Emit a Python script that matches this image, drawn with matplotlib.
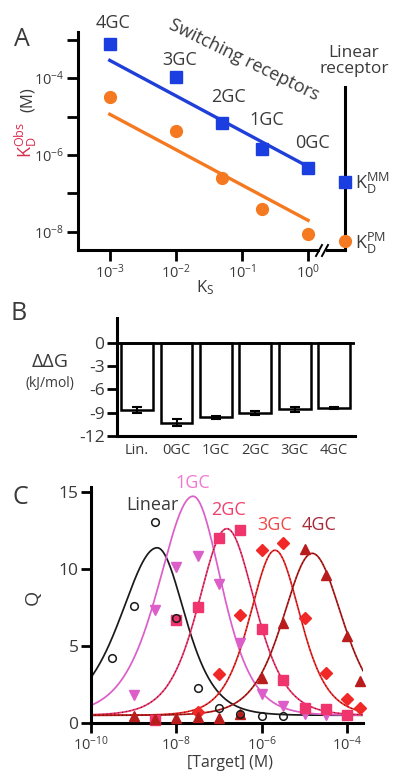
import numpy as np
import matplotlib
matplotlib.use('Agg')
import matplotlib.pyplot as plt
from matplotlib.lines import Line2D
from matplotlib.ticker import FixedLocator, NullLocator, FixedFormatter

plt.rcParams['font.family'] = ['Open Sans', 'DejaVu Sans']
plt.rcParams['mathtext.fontset'] = 'custom'
plt.rcParams['mathtext.rm'] = 'Open Sans'
plt.rcParams['mathtext.it'] = 'Open Sans'
plt.rcParams['mathtext.bf'] = 'Open Sans'
plt.rcParams['axes.unicode_minus'] = False

# ---------------- Panel A data ----------------
ks = [1e-3, 1e-2, 5e-2, 2e-1, 1e0]
constructs_A = ['4GC', '3GC', '2GC', '1GC', '0GC']
kd_mm = [7.9e-4, 1.07e-4, 6.7e-6, 1.45e-6, 4.6e-7]
kd_pm = [3.2e-5, 4.2e-6, 2.5e-7, 4.0e-8, 9.0e-9]
fit_ks = [1e-3, 1e0]
fit_mm = [2.9e-4, 5.0e-7]
fit_pm = [1.15e-5, 2.0e-8]
linear_mm = 1.95e-7
linear_pm = 5.9e-9
a_xticks = [1e-3, 1e-2, 1e-1, 1e0]
a_yticks = [1e-8, 1e-7, 1e-6, 1e-5, 1e-4, 1e-3]
a_ylabels = ['$\\mathdefault{10^{-8}}$', '', '$\\mathdefault{10^{-6}}$', '',
             '$\\mathdefault{10^{-4}}$', '']

# ---------------- Panel B data ----------------
b_labels = ['Lin.', '0GC', '1GC', '2GC', '3GC', '4GC']
ddg = [-8.6, -10.3, -9.6, -9.05, -8.55, -8.4]
ddg_err = [0.4, 0.45, 0.2, 0.3, 0.3, 0.1]
b_yticks = [0, -3, -6, -9, -12]

# ---------------- Panel C data ----------------
logc_lin = [-9.5, -9, -8.5, -8, -7.5, -7, -6.5, -6, -5.5]
q_lin = [4.2, 7.6, 13.0, 6.8, 2.25, 1.0, 0.6, 0.45, 0.45]
logc_1gc = [-9, -8.5, -8, -7.5, -7, -6.5, -6, -5.5, -5, -4.5]
q_1gc = [1.8, 7.3, 10.1, 10.8, 9.0, 5.2, 1.9, 1.1, 0.6, 0.5]
logc_2gc = [-8.5, -8, -7.5, -7, -6.5, -6, -5.5, -5, -4.5, -4]
q_2gc = [0.2, 6.7, 7.5, 12.0, 12.5, 6.1, 2.8, 1.0, 0.9, 0.5]
logc_3gc = [-7.5, -7, -6.5, -6, -5.5, -5, -4.5, -4, -3.7]
q_3gc = [0.73, 3.2, 7.0, 11.2, 11.7, 6.8, 3.27, 1.54, 0.95]
logc_4gc = [-9, -8.5, -8, -7.5, -7, -6.5, -6, -5.5, -5, -4.5, -4, -3.7]
q_4gc = [0.45, 0.25, 0.3, 0.4, 0.3, 0.6, 2.9, 6.5, 11.3, 9.6, 5.65, 2.7]

# fitted peak-curve parameters: centre (log M), peak Q, left/right slope
fit_center = [-8.45, -7.61, -6.82, -5.69, -4.82]
fit_peak = [11.36, 14.7, 12.6, 11.2, 11.0]
fit_hl = [0.77, 0.81, 0.98, 1.1, 0.95]
fit_hr = [1.0, 0.97, 0.98, 1.1, 0.92]
fit_base = 0.5
c_xticks = [1e-10, 1e-8, 1e-6, 1e-4]
c_yticks = [0, 5, 10, 15]

W, H = 395, 774
fig = plt.figure(figsize=(W / 100, H / 100), dpi=100)


def fx(x):
    return x / W


def fy(y):
    return 1 - y / H


TXT = '#3a3a3a'
BLUE = '#1a3ee0'
ORANGE = '#f47920'
RED_LBL = '#d8304f'

# ================= Panel A =================
axA = fig.add_axes([fx(78), fy(250), (318 - 78) / W, (250 - 32) / H])
axA.set_xscale('log')
axA.set_yscale('log')
axA.set_xlim(10 ** -3.48, 10 ** 0.15)
ylimA = (10 ** -8.47, 10 ** -2.8)
axA.set_ylim(*ylimA)
axA.plot(fit_ks, fit_mm, color='#1f3fd8', lw=2.4)
axA.plot(fit_ks, fit_pm, color=ORANGE, lw=2.4)
axA.plot(ks, kd_mm, 's', color=BLUE, ms=8.5, clip_on=False, zorder=3)
axA.plot(ks, kd_pm, 'o', color=ORANGE, ms=8.5, clip_on=False, zorder=3)
for s in ['top', 'right']:
    axA.spines[s].set_visible(False)
for s in ['left', 'bottom']:
    axA.spines[s].set_linewidth(2.2)
axA.xaxis.set_major_locator(FixedLocator(a_xticks))
axA.yaxis.set_major_locator(FixedLocator(a_yticks))
axA.yaxis.set_major_formatter(FixedFormatter(a_ylabels))
axA.xaxis.set_minor_locator(NullLocator())
axA.yaxis.set_minor_locator(NullLocator())
axA.tick_params(direction='out', length=8, width=2, labelsize=10.5,
                labelcolor=TXT, pad=2)

# linear receptor axis
axL = fig.add_axes([fx(327), fy(250), (372 - 327) / W, (250 - 32) / H])
axL.patch.set_visible(False)
axL.set_yscale('log')
axL.set_ylim(*ylimA)
axL.set_xlim(-1, 1.5)
for s in ['top', 'right']:
    axL.spines[s].set_visible(False)
axL.spines['left'].set_position(('data', 0))
axL.spines['left'].set_bounds(ylimA[0], 10 ** -4.23)
axL.spines['bottom'].set_bounds(-1, 0)
for s in ['left', 'bottom']:
    axL.spines[s].set_linewidth(2.2)
axL.set_xticks([])
axL.yaxis.set_major_locator(NullLocator())
axL.yaxis.set_minor_locator(NullLocator())
axL.plot([0], [linear_mm], 's', color=BLUE, ms=8.5, clip_on=False, zorder=3)
axL.plot([0], [linear_pm], 'o', color=ORANGE, ms=8.5, clip_on=False, zorder=3)

# axis break marks
for x0 in (316, 322):
    fig.add_artist(Line2D([fx(x0), fx(x0 + 6)], [fy(256), fy(245)],
                          color='black', lw=1.4))

# annotations A
ann_pos = [(113, 23), (180, 60), (228, 97), (267, 120), (312, 143)]
for lab, (px, py) in zip(constructs_A, ann_pos):
    fig.text(fx(px), fy(py), lab, ha='center', va='center', fontsize=13, color=TXT)
fig.text(fx(244), fy(60), 'Switching receptors', rotation=-26, rotation_mode='anchor',
         ha='center', va='center', fontsize=13, color=TXT)
fig.text(fx(354), fy(61), 'Linear\nreceptor', ha='center', va='center',
         fontsize=12.5, color=TXT, linespacing=1.05)
fig.text(fx(355), fy(183), r'$\mathregular{K_D^{MM}}$', ha='left', va='center',
         fontsize=13, color=TXT)
fig.text(fx(355), fy(243), r'$\mathregular{K_D^{PM}}$', ha='left', va='center',
         fontsize=13, color=TXT)
fig.text(fx(26), fy(140), r'$\mathregular{K_D^{Obs}}$', rotation=90, ha='center',
         va='center', fontsize=13, color=RED_LBL)
fig.text(fx(28), fy(100), '(M)', rotation=90, ha='center', va='center',
         fontsize=12, color=TXT)
fig.text(fx(205), fy(288), r'$\mathregular{K_S}$', ha='center', va='center',
         fontsize=12, color=TXT)
fig.text(fx(22), fy(40), 'A', ha='center', va='center', fontsize=18, color=TXT)

# ================= Panel B =================
axB = fig.add_axes([fx(117), fy(436), (355 - 117) / W, (436 - 318) / H])
xb = np.arange(len(b_labels))
axB.bar(xb, ddg, width=0.81, color='white', edgecolor='black', linewidth=1.8,
        yerr=ddg_err, capsize=3.5,
        error_kw=dict(elinewidth=1.5, capthick=1.5, ecolor='black'))
axB.axhline(0, color='black', lw=2)
axB.set_xlim(-0.51, 5.53)
axB.set_ylim(-12, 3.2)
for s in ['top', 'right']:
    axB.spines[s].set_visible(False)
for s in ['left', 'bottom']:
    axB.spines[s].set_linewidth(2.2)
axB.set_yticks(b_yticks)
axB.set_xticks(xb)
axB.set_xticklabels(b_labels)
axB.tick_params(axis='y', direction='out', length=7, width=2, labelsize=12.5,
                labelcolor=TXT, pad=2)
axB.tick_params(axis='x', length=0, labelsize=10.5, labelcolor=TXT, pad=5)
fig.text(fx(50), fy(362), 'ΔΔG', ha='center', va='center', fontsize=14, color=TXT)
fig.text(fx(50), fy(383), '(kJ/mol)', ha='center', va='center', fontsize=10, color=TXT)
fig.text(fx(19), fy(314), 'B', ha='center', va='center', fontsize=18, color=TXT)

# ================= Panel C =================
axC = fig.add_axes([fx(91), fy(723), (363 - 91) / W, (723 - 487) / H])
axC.set_xscale('log')
axC.set_xlim(1e-10, 10 ** -3.63)
axC.set_ylim(0, 15.3)

series = [
    ('Linear', logc_lin, q_lin, '#1a1a1a', 'o', 5.5, False),
    ('1GC', logc_1gc, q_1gc, '#dc5ec8', 'v', 7.5, False),
    ('2GC', logc_2gc, q_2gc, '#f0356e', 's', 7, True),
    ('3GC', logc_3gc, q_3gc, '#f02828', 'D', 6, True),
    ('4GC', logc_4gc, q_4gc, '#b81c1c', '^', 7.5, True),
]
lx = np.linspace(-10, -3.63, 500)
for i, (name, lc, q, col, mk, ms, dotted) in enumerate(series):
    d = lx - fit_center[i]
    h = np.where(d < 0, fit_hl[i], fit_hr[i])
    u = 10 ** (h * d)
    qq = fit_base + (fit_peak[i] - fit_base) * 4 * u / (1 + u) ** 2
    axC.plot(10 ** lx, qq, color=col, lw=1.25, zorder=2)
    if dotted:
        axC.plot(10 ** lx, qq, color='black', lw=0.7, ls=(0, (1, 3)), alpha=0.7, zorder=2)
    xc = 10 ** np.array(lc, dtype=float)
    if mk == 'o':
        axC.plot(xc, q, mk, mfc='none', mec=col, mew=1.1, ms=ms, zorder=4, clip_on=False)
    else:
        axC.plot(xc, q, mk, color=col, ms=ms, zorder=3, clip_on=False)

for s in ['top', 'right']:
    axC.spines[s].set_visible(False)
for s in ['left', 'bottom']:
    axC.spines[s].set_linewidth(2.2)
axC.xaxis.set_major_locator(FixedLocator(c_xticks))
axC.xaxis.set_minor_locator(NullLocator())
axC.set_yticks(c_yticks)
axC.tick_params(axis='x', direction='out', length=7, width=2, labelsize=10.5,
                labelcolor=TXT, pad=2)
axC.tick_params(axis='y', direction='out', length=7, width=2, labelsize=12.5,
                labelcolor=TXT, pad=2)

lbl_pos = [(152, 505, '#3a3a3a'), (193, 483, '#f07ad0'), (228, 510, '#f0406e'),
           (275, 525, '#f04848'), (319, 525, '#a82838')]
for (name, *_), (px, py, col) in zip(series, lbl_pos):
    fig.text(fx(px), fy(py), name, ha='center', va='center', fontsize=13, color=col)
fig.text(fx(33), fy(597), 'Q', rotation=90, ha='center', va='center', fontsize=14, color=TXT)
fig.text(fx(230), fy(763), '[Target] (M)', ha='center', va='center', fontsize=11.5, color=TXT)
fig.text(fx(20), fy(498), 'C', ha='center', va='center', fontsize=18, color=TXT)

fig.savefig('out.png', dpi=100)
